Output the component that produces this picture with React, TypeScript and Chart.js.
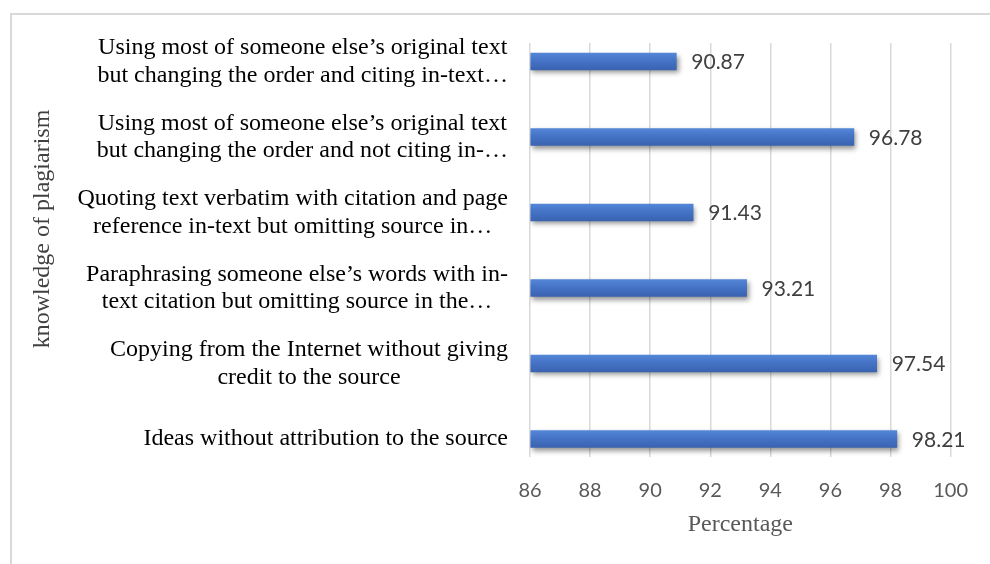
import React, { useEffect, useRef } from "react";
import { Chart, registerables } from "chart.js";

Chart.register(...registerables);

// Category labels, top to bottom, already broken into the lines shown
const categoryLines: string[][] = [
  ["Using most of someone else’s original text", "but changing the order and citing in-text…"],
  ["Using most of someone else’s original text", "but changing the order and not citing in-…"],
  ["Quoting text verbatim with citation and page", "reference in-text but omitting source in…"],
  ["Paraphrasing someone else’s words with in-", "text citation but omitting source in the…"],
  ["Copying from the Internet without giving", "credit to the source"],
  ["Ideas without attribution to the source"],
];

// Percentage for each category, same order
const percentages: number[] = [90.87, 96.78, 91.43, 93.21, 97.54, 98.21];

// Value axis range and spacing
const axisMin = 86;
const axisMax = 100;
const axisStep = 2;

const xTitle = "Percentage";
const yTitle = "knowledge of plagiarism";

const SERIF = '"Liberation Serif", "Times New Roman", serif';
const SANS = 'Lato, "Open Sans", sans-serif';

const barDecor = {
  id: "barDecor",
  beforeDatasetsDraw(chart: any) {
    const ctx = chart.ctx;
    ctx.save();
    ctx.shadowColor = "rgba(0,0,0,0.42)";
    ctx.shadowBlur = 5;
    ctx.shadowOffsetX = 2;
    ctx.shadowOffsetY = 3;
  },
  afterDatasetsDraw(chart: any) {
    const ctx = chart.ctx;
    ctx.restore();

    // value labels to the right of each bar
    const meta = chart.getDatasetMeta(0);
    ctx.save();
    ctx.font = `21px ${SANS}`;
    ctx.fillStyle = "#404040";
    ctx.textAlign = "left";
    ctx.textBaseline = "middle";
    meta.data.forEach((bar: any, i: number) => {
      ctx.fillText(percentages[i].toFixed(2), bar.x + 15, bar.y + 1);
    });
    ctx.restore();

    // category labels: each block right-aligned to the axis, lines centred within it
    const ys = chart.scales.y;
    const right = chart.chartArea.left - 22;
    const lineH = 27.6;
    ctx.save();
    ctx.font = `24px ${SERIF}`;
    ctx.fillStyle = "#000000";
    ctx.textAlign = "center";
    ctx.textBaseline = "middle";
    categoryLines.forEach((lines, i) => {
      const w = Math.max(...lines.map((l) => ctx.measureText(l).width));
      const cx = right - w / 2;
      const cy = ys.getPixelForValue(i);
      lines.forEach((l, j) => {
        ctx.fillText(l, cx, cy + (j - (lines.length - 1) / 2) * lineH);
      });
    });
    ctx.restore();

    // rotated axis title
    ctx.save();
    ctx.font = `24px ${SERIF}`;
    ctx.fillStyle = "#404040";
    ctx.textAlign = "center";
    ctx.textBaseline = "middle";
    ctx.translate(43, 229);
    ctx.rotate(-Math.PI / 2);
    ctx.fillText(yTitle, 0, 0);
    ctx.restore();
  },
};

export default function App() {
  const canvasRef = useRef<HTMLCanvasElement | null>(null);

  useEffect(() => {
    if (!canvasRef.current) return;
    const chart = new Chart(canvasRef.current, {
      type: "bar",
      data: {
        datasets: [
          {
            data: percentages.map((v, i) => ({ x: v, y: i })),
            base: axisMin,
            barThickness: 17,
            borderWidth: 0,
            backgroundColor: (c: any) => {
              const ch = c.chart;
              const ys = ch.scales && ch.scales.y;
              if (!ys || !ch.chartArea || c.dataIndex == null) return "#4472C4";
              const cy = ys.getPixelForValue(c.dataIndex);
              const g = ch.ctx.createLinearGradient(0, cy - 8.5, 0, cy + 8.5);
              g.addColorStop(0, "#5486d8");
              g.addColorStop(0.45, "#4573c6");
              g.addColorStop(1, "#3a63b0");
              return g;
            },
          } as any,
        ],
      },
      options: {
        animation: false,
        responsive: true,
        maintainAspectRatio: false,
        indexAxis: "y",
        layout: { padding: { left: 530, right: 36, top: 43, bottom: 24.6 } },
        plugins: {
          legend: { display: false },
          tooltip: { enabled: false },
        },
        scales: {
          x: {
            type: "linear",
            min: axisMin,
            max: axisMax,
            border: { display: false },
            grid: { color: "#d9d9d9", lineWidth: 1.5, drawTicks: false },
            ticks: {
              stepSize: axisStep,
              padding: 22,
              color: "#595959",
              font: { family: SANS, size: 20 },
            },
            title: {
              display: true,
              text: xTitle,
              color: "#595959",
              font: { family: SERIF, size: 24 },
              padding: { top: 0, bottom: 0 },
            },
            afterFit: (s: any) => {
              s.height = 82.4;
            },
          },
          y: {
            type: "linear",
            display: false,
            offset: false,
            reverse: true,
            min: -0.245,
            max: 5.238,
          },
        },
      } as any,
      plugins: [barDecor],
    });
    return () => chart.destroy();
  }, []);

  return (
    <>
      <div
        style={{
          position: "fixed",
          left: 10,
          top: 13,
          width: 1000,
          height: 600,
          border: "2px solid #d9d9d9",
          boxSizing: "border-box",
          background: "#ffffff",
        }}
      />
      <div style={{ position: "fixed", left: 0, top: 0, width: 990, height: 564 }}>
        <canvas ref={canvasRef} />
      </div>
    </>
  );
}
